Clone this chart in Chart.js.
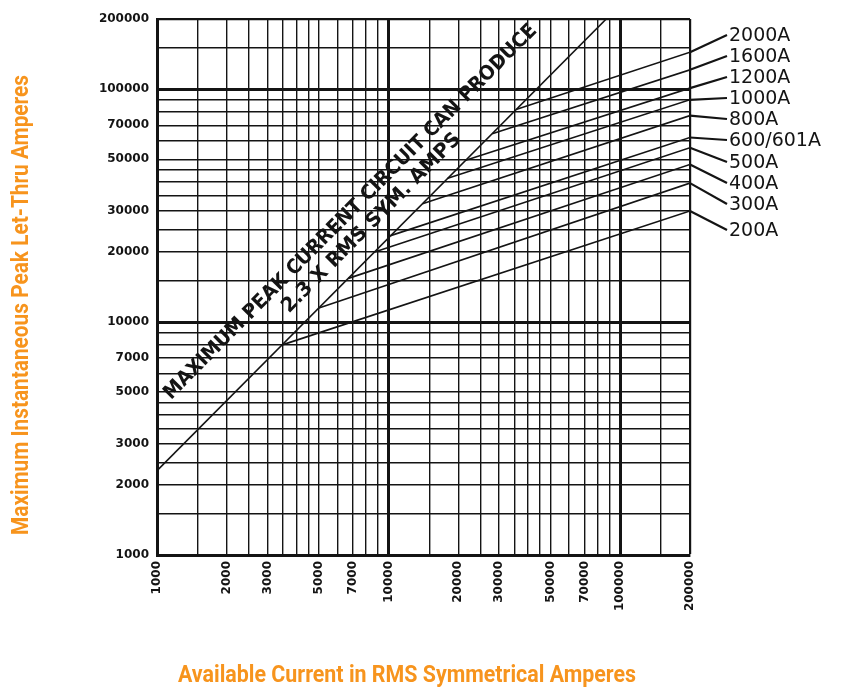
<!DOCTYPE html>
<html>
<head>
<meta charset="utf-8">
<script src="https://cdn.jsdelivr.net/npm/chart.js@4.4.1/dist/chart.umd.min.js"></script>
<style>
  html, body { margin: 0; padding: 0; background: #fff; }
  canvas { display: block; }
</style>
</head>
<body>
<canvas id="chart" width="841" height="698"></canvas>
<script>
// grid lines drawn on both log axes, and the ones that carry a label
const gridValues = [1000, 1500, 2000, 2500, 3000, 3500, 4000, 4500, 5000, 6000, 7000, 8000, 9000,
  10000, 15000, 20000, 25000, 30000, 35000, 40000, 45000, 50000, 60000, 70000, 80000, 90000,
  100000, 150000, 200000];
const tickLabels = [1000, 2000, 3000, 5000, 7000, 10000, 20000, 30000, 50000, 70000, 100000, 200000];

// fuse let-thru curves: start on the 2.3x line, end at 200000 A available
const fuseRatings = ['200A', '300A', '400A', '500A', '600/601A', '800A', '1000A', '1200A', '1600A', '2000A'];
const fuseStartCurrent = [3500, 5000, 6700, 8700, 10200, 14000, 18000, 21500, 28000, 35500];
const fuseStartPeak = [8000, 11500, 15400, 20000, 23500, 32200, 41400, 49500, 64400, 81700];
const fuseEndCurrent = 200000;
const fuseEndPeak = [30000, 39500, 47500, 56000, 62000, 77000, 90000, 101000, 121000, 144000];

// maximum peak current a circuit can produce (2.3 x RMS sym.)
const maxPeakCurrent = [1000, 87000];
const maxPeakValues = [2300, 200000];

const INK = '#141414';
const ORANGE = '#f7941d';

// where the fuse names sit to the right of the plot (pixel rows)
const labelRows = [230, 204, 183, 162, 140, 119, 98, 77, 56, 35];

const datasets = fuseRatings.map((name, i) => ({
  label: name,
  data: [
    { x: fuseStartCurrent[i], y: fuseStartPeak[i] },
    { x: fuseEndCurrent, y: fuseEndPeak[i] }
  ]
}));
datasets.push({
  label: 'Maximum peak',
  data: maxPeakCurrent.map((v, i) => ({ x: v, y: maxPeakValues[i] }))
});

function gridWidth(c) {
  const v = c.tick && c.tick.value;
  if (v === 10000 || v === 100000) return 3;
  if (v === 200000) return 2.2;
  return 1.4;
}

function drawFitted(ctx, text, cx, cy, angle, font, width) {
  ctx.save();
  ctx.font = font;
  const w = ctx.measureText(text).width;
  ctx.translate(cx, cy);
  ctx.rotate(angle);
  ctx.scale(width / w, 1);
  ctx.textAlign = 'center';
  ctx.textBaseline = 'middle';
  ctx.fillText(text, 0, 0);
  ctx.restore();
}

const annotations = {
  id: 'annotations',
  afterDraw(chart) {
    const { ctx, scales: { x, y } } = chart;
    ctx.save();

    // leaders and fuse names
    ctx.strokeStyle = INK;
    ctx.fillStyle = INK;
    ctx.lineWidth = 2.2;
    ctx.font = '19px "DejaVu Sans"';
    ctx.textAlign = 'left';
    ctx.textBaseline = 'middle';
    fuseRatings.forEach((name, i) => {
      const px = x.getPixelForValue(fuseEndCurrent);
      const py = y.getPixelForValue(fuseEndPeak[i]);
      ctx.beginPath();
      ctx.moveTo(px, py);
      ctx.lineTo(px + 37, labelRows[i]);
      ctx.stroke();
      ctx.fillText(name, px + 39, labelRows[i] + 1);
    });

    // text along the maximum peak line
    const x0 = x.getPixelForValue(maxPeakCurrent[0]);
    const y0 = y.getPixelForValue(maxPeakValues[0]);
    const x1 = x.getPixelForValue(maxPeakCurrent[1]);
    const y1 = y.getPixelForValue(maxPeakValues[1]);
    const ang = Math.atan2(y1 - y0, x1 - x0);
    drawFitted(ctx, 'MAXIMUM PEAK CURRENT CIRCUIT CAN PRODUCE',
      x.getPixelForValue(6850), y.getPixelForValue(29650), ang, 'bold 20px "DejaVu Sans"', 520);
    drawFitted(ctx, '2.3 X RMS SYM. AMPS',
      x.getPixelForValue(8450), y.getPixelForValue(26600), ang, 'bold 20px "DejaVu Sans"', 245);

    // axis titles
    ctx.fillStyle = ORANGE;
    drawFitted(ctx, 'Available Current in RMS Symmetrical Amperes', 407, 676, 0, 'bold 23px Roboto', 458);
    drawFitted(ctx, 'Maximum Instantaneous Peak Let-Thru Amperes', 22, 305, -Math.PI / 2, 'bold 23px Roboto', 460);

    ctx.restore();
  }
};

const axisCommon = {
  type: 'logarithmic',
  min: 1000,
  max: 200000,
  afterBuildTicks: s => { s.ticks = gridValues.map(v => ({ value: v })); },
  grid: { color: INK, lineWidth: gridWidth, drawTicks: false },
  border: { display: true, color: INK, width: 3 },
  ticks: {
    autoSkip: false,
    color: INK,
    font: { family: 'DejaVu Sans', size: 12, weight: 'bold' },
    callback: v => tickLabels.includes(v) ? String(v) : ''
  }
};

new Chart(document.getElementById('chart').getContext('2d'), {
  type: 'scatter',
  data: { datasets: datasets },
  options: {
    responsive: false,
    animation: false,
    devicePixelRatio: 1,
    showLine: true,
    elements: {
      point: { radius: 0 },
      line: { borderColor: INK, borderWidth: 1.6, tension: 0 }
    },
    layout: { padding: { left: 0, top: 19, right: 151, bottom: 0 } },
    plugins: { legend: { display: false }, tooltip: { enabled: false } },
    scales: {
      x: {
        ...axisCommon,
        ticks: { ...axisCommon.ticks, minRotation: 90, maxRotation: 90, padding: 6 },
        afterFit: s => { s.height = 143; }
      },
      y: {
        ...axisCommon,
        ticks: { ...axisCommon.ticks, padding: 8 },
        afterFit: s => { s.width = 157; }
      }
    }
  },
  plugins: [annotations]
});
</script>
</body>
</html>
